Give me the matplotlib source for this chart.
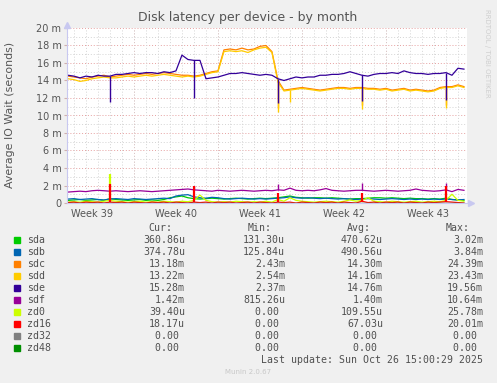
import numpy as np
import matplotlib
matplotlib.use("Agg")
import matplotlib.pyplot as plt
from matplotlib.patches import Rectangle
from matplotlib.transforms import offset_copy

W, H = 497, 383

# time axis in days from the left edge of the graph, one sample every 12 h
days = 0.08 + 0.5 * np.arange(67)
day_lines = np.arange(0.58, 33.3, 1.0)
week_lines = np.arange(5.58, 33.3, 7.0)
week_ticks = [2.08, 9.08, 16.08, 23.08, 30.08]
week_labels = ["Week 39", "Week 40", "Week 41", "Week 42", "Week 43"]

# series values in milliseconds ("m")
sda = [0.30, 0.35, 0.40, 0.30, 0.35, 0.40, 0.30, 0.50, 0.40, 0.35, 0.30, 0.35, 0.40, 0.30,
       0.35, 0.30, 0.40, 0.60, 0.70, 0.80, 0.60, 0.50, 0.45, 0.50, 0.55, 0.50, 0.45, 0.50,
       0.55, 0.50, 0.45, 0.50, 0.55, 0.50, 0.55, 0.60, 0.70, 0.80, 0.65, 0.60, 0.55, 0.60,
       0.60, 0.55, 0.60, 0.55, 0.50, 0.45, 0.50, 0.50, 0.55, 0.60, 0.60, 0.55, 0.60, 0.55,
       0.50, 0.55, 0.50, 0.50, 0.45, 0.50, 0.45, 0.55, 0.40, 0.35, 0.30]
sdb = [0.45, 0.50, 0.40, 0.45, 0.50, 0.40, 0.35, 0.45, 0.50, 0.45, 0.40, 0.50, 0.45, 0.40,
       0.45, 0.50, 0.55, 0.50, 0.80, 0.90, 0.95, 0.70, 0.60, 0.55, 0.65, 0.60, 0.50, 0.45,
       0.50, 0.55, 0.50, 0.45, 0.50, 0.45, 0.50, 0.55, 0.60, 0.70, 0.60, 0.55, 0.60, 0.55,
       0.50, 0.55, 0.50, 0.45, 0.50, 0.45, 0.40, 0.45, 0.50, 0.45, 0.40, 0.45, 0.50, 0.45,
       0.40, 0.45, 0.40, 0.45, 0.40, 0.45, 0.40, 0.45, 0.40, 0.35, 0.40]
sdc = [14.5, 14.4, 14.3, 14.2, 14.4, 14.5, 14.6, 14.4, 14.5, 14.6, 14.7, 14.6, 14.7, 14.8,
       14.7, 14.8, 14.9, 14.8, 14.7, 14.6, 14.6, 14.5, 14.6, 14.8, 15.0, 15.1, 17.5, 17.6,
       17.5, 17.7, 17.5, 17.6, 17.9, 18.0, 17.3, 14.0, 12.9, 13.0, 13.1, 13.2, 13.1, 13.0,
       12.9, 13.0, 13.1, 13.2, 13.2, 13.1, 13.2, 13.2, 13.1, 13.1, 13.0, 13.1, 12.9, 13.0,
       13.1, 12.9, 13.0, 12.9, 12.8, 12.9, 13.2, 13.3, 13.3, 13.5, 13.3]
sdd = [14.2, 14.1, 13.9, 14.0, 14.2, 14.3, 14.4, 14.3, 14.3, 14.4, 14.5, 14.4, 14.5, 14.6,
       14.5, 14.6, 14.7, 14.6, 14.5, 14.4, 14.5, 14.4, 14.5, 14.7, 14.9, 15.0, 17.3, 17.4,
       17.3, 17.4, 17.2, 17.5, 17.7, 17.8, 17.2, 13.8, 12.8, 12.9, 13.0, 13.1, 13.0, 12.9,
       12.8, 12.9, 13.0, 13.1, 13.1, 13.0, 13.1, 13.1, 13.0, 13.0, 12.9, 13.0, 12.8, 12.9,
       13.0, 12.8, 12.9, 12.8, 12.7, 12.8, 13.1, 13.2, 13.2, 13.4, 13.2]
sde = [14.6, 14.5, 14.3, 14.5, 14.4, 14.6, 14.5, 14.5, 14.7, 14.7, 14.8, 14.9, 14.8, 14.9,
       14.9, 14.8, 15.0, 14.9, 15.1, 16.9, 16.4, 16.3, 16.3, 14.2, 14.3, 14.4, 14.6, 14.8,
       14.8, 14.9, 14.8, 14.7, 14.6, 14.7, 14.6, 14.2, 14.0, 14.2, 14.4, 14.3, 14.4, 14.4,
       14.6, 14.6, 14.7, 14.7, 14.8, 15.0, 14.8, 14.6, 14.5, 14.7, 14.8, 14.8, 14.9, 14.8,
       15.1, 14.9, 14.8, 14.8, 14.7, 14.8, 14.8, 14.9, 14.6, 15.4, 15.3]
sdf = [1.25, 1.30, 1.35, 1.30, 1.40, 1.45, 1.40, 1.35, 1.40, 1.35, 1.30, 1.35, 1.40, 1.35,
       1.30, 1.35, 1.40, 1.45, 1.50, 1.55, 1.60, 1.50, 1.45, 1.40, 1.35, 1.45, 1.40, 1.35,
       1.40, 1.45, 1.40, 1.35, 1.40, 1.45, 1.40, 1.50, 1.45, 1.70, 1.45, 1.40, 1.45, 1.40,
       1.50, 1.65, 1.45, 1.40, 1.35, 1.40, 1.45, 1.45, 1.40, 1.35, 1.40, 1.45, 1.40, 1.35,
       1.40, 1.45, 1.60, 1.45, 1.40, 1.35, 1.40, 1.50, 1.30, 1.55, 1.45]
zd0 = [0.10, 0.15, 0.10, 0.20, 0.15, 0.10, 0.20, 0.30, 0.20, 0.15, 0.10, 0.15, 0.20, 0.10,
       0.15, 0.10, 0.20, 0.15, 0.10, 0.20, 0.15, 0.30, 0.90, 0.30, 0.15, 0.10, 0.15, 0.10,
       0.20, 0.15, 0.10, 0.15, 0.10, 0.20, 0.10, 0.40, 0.20, 0.60, 0.30, 0.20, 0.15, 0.10,
       0.15, 0.20, 0.15, 0.10, 0.20, 0.35, 0.20, 0.30, 0.60, 0.20, 0.15, 0.10, 0.20, 0.15,
       0.10, 0.15, 0.20, 0.10, 0.15, 0.20, 0.15, 0.30, 1.00, 0.30, 0.20]
zd16 = [0.05, 0.10, 0.00, 0.10, 0.05, 0.10, 0.00, 0.10, 0.05, 0.10, 0.00, 0.10, 0.05, 0.00,
        0.10, 0.05, 0.10, 0.00, 0.10, 0.05, 0.00, 0.10, 0.05, 0.10, 0.00, 0.10, 0.05, 0.10,
        0.00, 0.05, 0.10, 0.00, 0.10, 0.05, 0.00, 0.10, 0.05, 0.10, 0.00, 0.10, 0.05, 0.00,
        0.10, 0.05, 0.10, 0.00, 0.10, 0.05, 0.00, 0.20, 0.05, 0.10, 0.00, 0.10, 0.05, 0.10,
        0.00, 0.10, 0.05, 0.00, 0.10, 0.05, 0.10, 0.15, 0.10, 0.05, 0.00]
zd32 = np.zeros(67)   # legend shows 0.00 everywhere
zd48 = np.zeros(67)

# short weekly spikes / dips (day, value)
spike_days = [3.58, 10.58, 17.58, 24.58, 31.58]
sde_dip = [11.5, 12.0, 11.4, 11.6, 11.8]
sdc_dip_days = [17.58, 24.58, 31.58]
sdc_dip = [10.9, 11.2, 11.2]
sdd_dip_days = [17.58, 18.58, 24.58, 31.58]
sdd_dip = [10.4, 11.5, 10.7, 10.8]
sdf_peak_days = [10.58, 17.58, 24.58, 31.58]
sdf_peak = [1.95, 2.2, 2.3, 2.3]
zd0_peak_days = [3.58, 31.58]
zd0_peak = [3.3, 1.1]
zd16_peak = [2.2, 2.0, 1.2, 1.2, 2.0]

names = ["sda", "sdb", "sdc", "sdd", "sde", "sdf", "zd0", "zd16", "zd32", "zd48"]
colors = ["#00cc00", "#0066b3", "#ff8000", "#ffcc00", "#330099",
          "#990099", "#ccff00", "#ff0000", "#808080", "#008f00"]
cur = ["360.86u", "374.78u", "13.18m", "13.22m", "15.28m", "1.42m", "39.40u", "18.17u", "0.00", "0.00"]
mins = ["131.30u", "125.84u", "2.43m", "2.54m", "2.37m", "815.26u", "0.00", "0.00", "0.00", "0.00"]
avgs = ["470.62u", "490.56u", "14.30m", "14.16m", "14.76m", "1.40m", "109.55u", "67.03u", "0.00", "0.00"]
maxs = ["3.02m", "3.84m", "24.39m", "23.43m", "19.56m", "10.64m", "25.78m", "20.01m", "0.00", "0.00"]

series = [sda, sdb, sdc, sdd, sde, sdf, zd0, zd16, zd32, zd48]
spikes = {
    "sdc": (sdc_dip_days, sdc_dip),
    "sdd": (sdd_dip_days, sdd_dip),
    "sde": (spike_days, sde_dip),
    "sdf": (sdf_peak_days, sdf_peak),
    "zd0": (zd0_peak_days, zd0_peak),
    "zd16": (spike_days, zd16_peak),
}

fig = plt.figure(figsize=(W / 100, H / 100), dpi=100, facecolor="#f0f0f0")
ax = fig.add_axes([67 / W, 1 - 203 / H, 400 / W, 175 / H])
ax.set_facecolor("white")
ax.set_xlim(0, 400 / 12)
ax.set_ylim(0, 20)

# grid
dot = (0, (1, 2))
for v in range(1, 20, 2):
    ax.axhline(v, color="#d4d4d4", lw=0.7, ls=dot, zorder=0)
for v in range(2, 21, 2):
    ax.axhline(v, color="#e6a0a0", lw=0.7, ls=dot, zorder=0)
for d in day_lines:
    ax.axvline(d, color="#d4d4d4", lw=0.7, ls=dot, zorder=0)
for d in week_lines:
    ax.axvline(d, color="#dcc4c4", lw=0.7, ls=dot, zorder=0)

for name, vals, col in zip(names, series, colors):
    vals = np.asarray(vals)
    ax.plot(days, vals, color=col, lw=0.9, zorder=2)
    if name in spikes:
        sd, sv = spikes[name]
        idx = np.rint((np.asarray(sd) - 0.08) / 0.5).astype(int)
        lw = 1.6 if name in ("zd0", "zd16") else 1.0
        ax.vlines(sd, vals[idx], sv, color=col, lw=lw, zorder=2)

ax.set_yticks(range(0, 21, 2))
ax.set_yticklabels(["0"] + [f"{v} m" for v in range(2, 21, 2)])
ax.set_xticks(week_ticks)
ax.set_xticklabels(week_labels)
ax.tick_params(axis="y", labelsize=7, labelcolor="#555555", length=2, color="#d0b0b0", pad=2)
ax.tick_params(axis="x", labelsize=7, labelcolor="#555555", length=0, pad=4)
for s in ("top", "right"):
    ax.spines[s].set_visible(False)
for s in ("left", "bottom"):
    ax.spines[s].set_color("#c8c8f0")
    ax.spines[s].set_linewidth(0.8)

# axis arrows
ax.plot([0], [1], marker="^", ms=4, color="#c8c8f0", clip_on=False,
        transform=offset_copy(ax.transAxes, fig=fig, x=0, y=3, units="dots"))
ax.plot([1], [0], marker=">", ms=4, color="#c8c8f0", clip_on=False,
        transform=offset_copy(ax.transAxes, fig=fig, x=4, y=0, units="dots"))

# texts and legend in pixel coordinates
ov = fig.add_axes([0, 0, 1, 1])
ov.set_xlim(0, W)
ov.set_ylim(H, 0)
ov.axis("off")
ov.patch.set_visible(False)

ov.text(248, 18, "Disk latency per device - by month", ha="center", va="center",
        fontsize=9, color="#555555")
ov.text(10.5, 115, "Average IO Wait (seconds)", rotation=90, ha="center", va="center",
        fontsize=7.9, color="#555555")
ov.text(487, 53, "RRDTOOL / TOBI OETIKER", rotation=270, ha="center", va="center",
        fontsize=5, color="#cfcfcf")

mono = "DejaVu Sans Mono"
fs = 7.1
tc = "#505050"
row0 = 240
for hx, ht in zip([172, 272, 371, 470], ["Cur:", "Min:", "Avg:", "Max:"]):
    ov.text(hx, 228.3, ht, ha="right", va="center", family=mono, fontsize=fs, color=tc)
for i, name in enumerate(names):
    y = row0 + 11.95 * i
    ov.add_patch(Rectangle((14, y - 3), 6, 6, color=colors[i]))
    ov.text(26.7, y, name, ha="left", va="center", family=mono, fontsize=fs, color=tc)
    for cx, col in zip([185, 285, 383, 483], [cur, mins, avgs, maxs]):
        txt = col[i] if col[i][-1] in "um" else col[i] + " "
        ov.text(cx, y, txt, ha="right", va="center", family=mono, fontsize=fs, color=tc)
ov.text(483, 359.7, "Last update: Sun Oct 26 15:00:29 2025", ha="right", va="center",
        family=mono, fontsize=fs, color=tc)
ov.text(248, 371.7, "Munin 2.0.67", ha="center", va="center", fontsize=5, color="#c8c8c8")

fig.savefig("out.png", dpi=100, facecolor=fig.get_facecolor())
